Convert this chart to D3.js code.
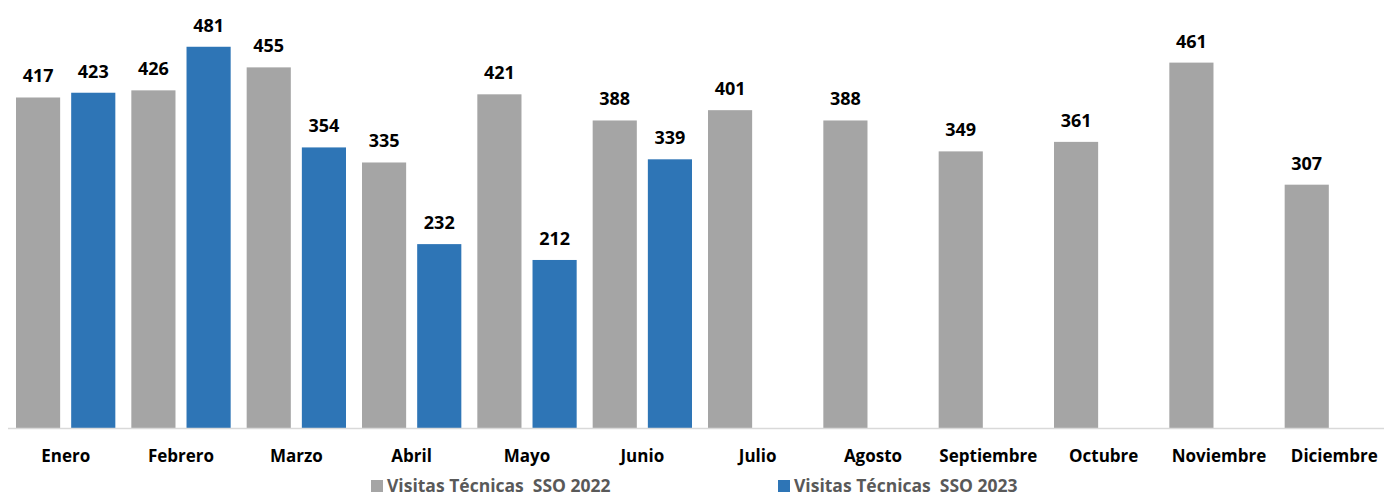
<!DOCTYPE html>
<html>
<head>
<meta charset="utf-8">
<script src="https://cdn.jsdelivr.net/npm/d3@7"></script>
<style>
  body { margin: 0; background: #fff; }
  text { font-family: "Open Sans", "Liberation Sans", sans-serif; font-weight: bold; }
  .legend text { white-space: pre; }
</style>
</head>
<body>
<div id="chart"></div>
<script>
var months = ["Enero", "Febrero", "Marzo", "Abril", "Mayo", "Junio", "Julio",
    "Agosto", "Septiembre", "Octubre", "Noviembre", "Diciembre"];
var series = ["Visitas Técnicas  SSO 2022", "Visitas Técnicas  SSO 2023"];
var visitas2022 = [417, 426, 455, 335, 421, 388, 401, 388, 349, 361, 461, 307];
var visitas2023 = [423, 481, 354, 232, 212, 339, null, null, null, null, null, null];
var colors = ["#A5A5A5", "#2E75B6"];

var width = 1384, height = 497;
var baseY = 428;

var svg = d3.select("#chart").append("svg")
    .attr("width", width)
    .attr("height", height);

var x0 = d3.scaleBand()
    .domain(months)
    .range([8, 1392])
    .paddingInner(0)
    .paddingOuter(0);

var x1 = d3.scaleBand()
    .domain([0, 1])
    .range([8, x0.bandwidth() - 8])
    .paddingInner(0.2);

var y = d3.scaleLinear()
    .domain([0, 540])
    .range([baseY, 0]);

var rows = [];
months.forEach(function(m, i) {
    [visitas2022[i], visitas2023[i]].forEach(function(v, s) {
        if (v != null) rows.push({ month: m, s: s, v: v });
    });
});

svg.selectAll("rect.bar")
    .data(rows)
    .enter().append("rect")
    .attr("class", "bar")
    .attr("x", function(d) { return x0(d.month) + x1(d.s); })
    .attr("y", function(d) { return y(d.v); })
    .attr("width", x1.bandwidth())
    .attr("height", function(d) { return baseY - y(d.v); })
    .attr("fill", function(d) { return colors[d.s]; });

svg.selectAll("text.val")
    .data(rows)
    .enter().append("text")
    .attr("class", "val")
    .attr("x", function(d) { return x0(d.month) + x1(d.s) + x1.bandwidth() / 2; })
    .attr("y", function(d) { return y(d.v) - 15; })
    .attr("text-anchor", "middle")
    .attr("font-size", 18)
    .attr("fill", "#000")
    .text(function(d) { return d.v; });

// axis
var axis = svg.append("g")
    .attr("transform", "translate(0," + baseY + ")")
    .call(d3.axisBottom(x0).tickSize(0).tickPadding(22));
axis.select(".domain").attr("stroke", "#D9D9D9").attr("stroke-width", 1.5)
    .attr("d", "M8,0.5H1384");
axis.selectAll("text")
    .attr("font-size", 17)
    .attr("font-family", "Open Sans, Liberation Sans, sans-serif")
    .attr("font-weight", "bold")
    .attr("fill", "#000");

// legend
var legendX = [371, 778];
var legend = svg.selectAll("g.legend")
    .data(series)
    .enter().append("g")
    .attr("class", "legend")
    .attr("transform", function(d, i) { return "translate(" + legendX[i] + ",480)"; });
legend.append("rect")
    .attr("width", 12).attr("height", 12)
    .attr("fill", function(d, i) { return colors[i]; });
legend.append("text")
    .attr("x", 16).attr("y", 11.5)
    .attr("font-size", 17.5)
    .attr("fill", "#595959")
    .text(function(d) { return d; });
</script>
</body>
</html>
